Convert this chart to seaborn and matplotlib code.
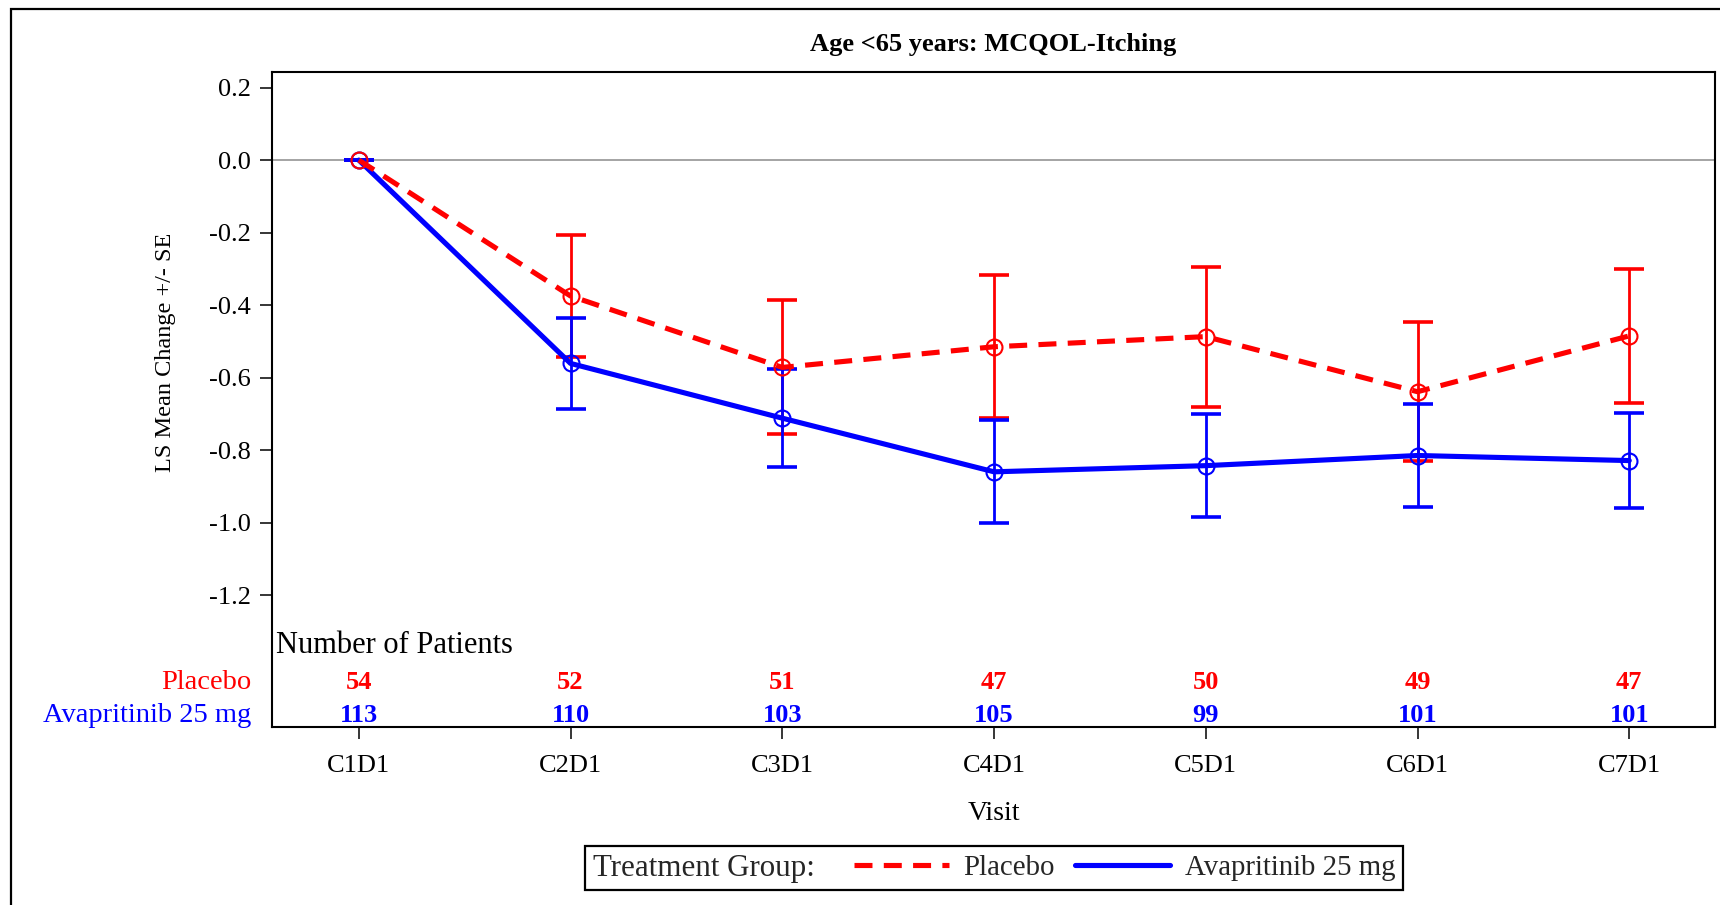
import matplotlib
matplotlib.use("Agg")
import matplotlib.pyplot as plt
import matplotlib.transforms as mtransforms
import seaborn as sns
import pandas as pd
import numpy as np
from matplotlib.lines import Line2D
from matplotlib.patches import Rectangle
from matplotlib.offsetbox import HPacker

# ---------------- data ----------------
visits = ["C1D1", "C2D1", "C3D1", "C4D1", "C5D1", "C6D1", "C7D1"]
groups = ["Placebo", "Avapritinib 25 mg"]
placebo_mean = [0.0, -0.375, -0.572, -0.515, -0.487, -0.639, -0.485]
placebo_se = [0.0, 0.169, 0.185, 0.197, 0.193, 0.192, 0.184]
avap_mean = [0.0, -0.561, -0.712, -0.860, -0.843, -0.815, -0.829]
avap_se = [0.0, 0.125, 0.135, 0.142, 0.143, 0.141, 0.131]
placebo_n = [54, 52, 51, 47, 50, 49, 47]
avap_n = [113, 110, 103, 105, 99, 101, 101]
yticks = [0.2, 0.0, -0.2, -0.4, -0.6, -0.8, -1.0, -1.2]
title = "Age <65 years: MCQOL-Itching"
ylabel = "LS Mean Change +/- SE"
xlabel = "Visit"
table_title = "Number of Patients"
legend_title = "Treatment Group:"

colors = {"Placebo": "#FF0000", "Avapritinib 25 mg": "#0000FF"}

# ---------------- style ----------------
sns.set_theme(style="white")
plt.rcParams['font.family'] = ['Liberation Serif', 'DejaVu Serif']
plt.rcParams['axes.unicode_minus'] = False

W, H = 1720, 905
fig = plt.figure(figsize=(W / 100, H / 100), dpi=100)
L, R, T, B = 272, 1715, 72, 727
ax = fig.add_axes([L / W, 1 - B / H, (R - L) / W, (B - T) / H])

xpos = np.arange(len(visits))
df = pd.DataFrame({
    "x": np.concatenate([xpos, xpos]),
    "mean": placebo_mean + avap_mean,
    "se": placebo_se + avap_se,
    "group": [groups[0]] * len(visits) + [groups[1]] * len(visits),
})

ax.axhline(0, color="#8c8c8c", lw=1.1, zorder=1)

LW = 3.7
DASH = (3.5, 2.2)

# error bars
for g in groups:
    sub = df[df.group == g]
    ax.errorbar(sub["x"], sub["mean"], yerr=sub["se"], fmt="none",
                ecolor=colors[g], elinewidth=2.0, capsize=11, capthick=2.6,
                zorder=3)

# lines
for g in groups[::-1]:
    sub = df[df.group == g]
    sns.lineplot(data=sub, x="x", y="mean", ax=ax, color=colors[g],
                 linewidth=LW, marker="o", markersize=11.5,
                 markerfacecolor="none", markeredgecolor=colors[g],
                 markeredgewidth=1.5, sort=False, errorbar=None,
                 legend=False, zorder=4)
    if g == "Placebo":
        ax.lines[-1].set_dashes(DASH)

ax.set_xlim(-0.41, 6.405)
ax.set_ylim(-1.564, 0.243)
ax.set_yticks(yticks)
ax.yaxis.set_major_formatter(matplotlib.ticker.FormatStrFormatter("%.1f"))
ax.set_xticks(xpos)
ax.set_xticklabels(visits)
ax.tick_params(axis="both", which="major", bottom=True, left=True,
               direction="out", length=8.5, width=1.1, color="black",
               labelsize=19, labelcolor="black")
ax.tick_params(axis="y", pad=6.5)
ax.tick_params(axis="x", pad=12)
for s in ax.spines.values():
    s.set_color("black")
    s.set_linewidth(1.5)

ax.set_xlabel(xlabel, fontsize=20, color="black", labelpad=17)
ax.set_ylabel(ylabel, fontsize=17.5, color="black", va="center")
ax.yaxis.set_label_coords((165 - L) / (R - L), (B - 352) / (B - T))

# patients table inside the axes
trans = mtransforms.blended_transform_factory(ax.transData, ax.transAxes)
ax.text(0.003, 0.125, table_title, transform=ax.transAxes, ha="left",
        va="center", fontsize=22, color="black")
for i in range(len(visits)):
    ax.text(xpos[i], 0.0686, str(placebo_n[i]), transform=trans, ha="center",
            va="center", fontsize=19, fontweight="bold", color=colors["Placebo"])
    ax.text(xpos[i], 0.0183, str(avap_n[i]), transform=trans, ha="center",
            va="center", fontsize=19, fontweight="bold",
            color=colors["Avapritinib 25 mg"])
ax.text(-0.0145, 0.0686, groups[0], transform=ax.transAxes, ha="right",
        va="center", fontsize=20.5, color=colors["Placebo"])
ax.text(-0.0145, 0.0183, groups[1], transform=ax.transAxes, ha="right",
        va="center", fontsize=20.5, color=colors["Avapritinib 25 mg"])

# title
fig.text((L + R) / 2 / W, 1 - 44 / H, title, ha="center", va="center",
         fontsize=19, fontweight="bold", color="black")

# legend
h1 = Line2D([], [], color=colors["Placebo"], lw=LW, dashes=DASH)
h2 = Line2D([], [], color=colors["Avapritinib 25 mg"], lw=LW)
leg = fig.legend(handles=[h1, h2], labels=groups, title=legend_title,
                 ncol=2, loc="center", bbox_to_anchor=(994 / W, 1 - 868 / H),
                 fontsize=20.8, title_fontsize=22.3, frameon=True,
                 fancybox=False, framealpha=1, edgecolor="black",
                 handlelength=3.3, handletextpad=0.5, columnspacing=0.7,
                 borderpad=0.25, borderaxespad=0)
leg.get_frame().set_linewidth(1.6)
fs = leg._fontsize
newbox = HPacker(pad=leg.borderpad * fs, sep=1.35 * fs, align="center",
                 children=[leg._legend_title_box, leg._legend_handle_box])
newbox.set_figure(fig)
newbox.axes = leg.axes
newbox.set_offset(leg._findoffset)
leg._legend_box = newbox

# outer border
fig.patches.append(Rectangle((11 / W, -0.1), 1.2, 1 - 9 / H + 0.1,
                             transform=fig.transFigure, fill=False,
                             ec="black", lw=1.6))

fig.savefig("out.png", dpi=100)
